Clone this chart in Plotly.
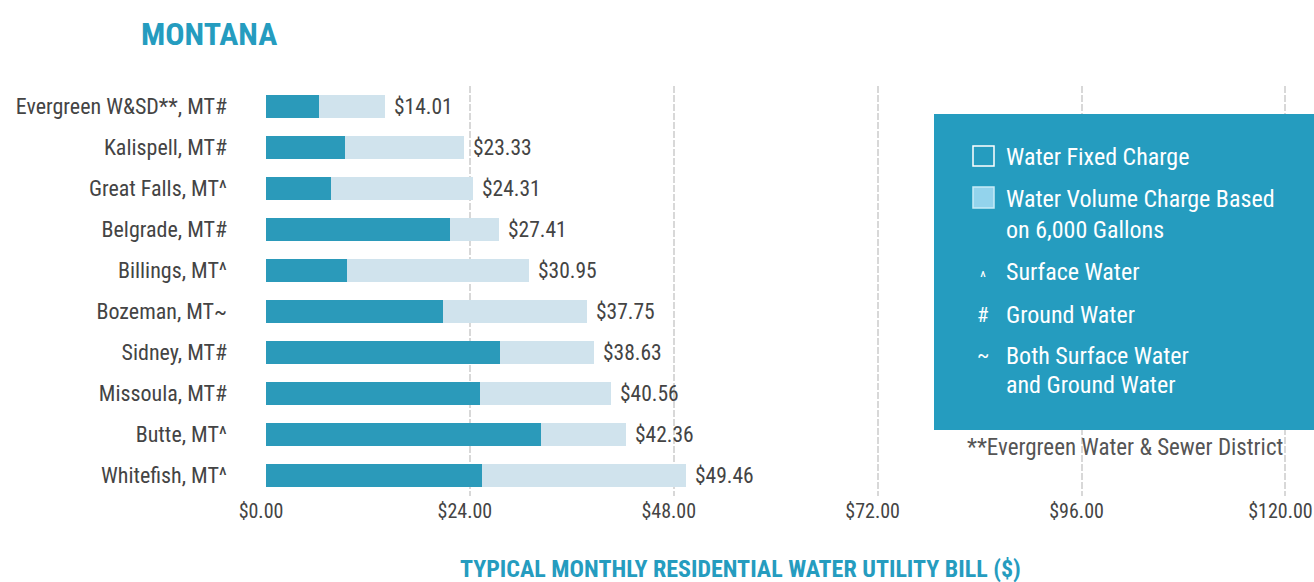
import plotly.graph_objects as go

cities = ["Evergreen W&SD**, MT#", "Kalispell, MT#", "Great Falls, MT^", "Belgrade, MT#",
          "Billings, MT^", "Bozeman, MT~", "Sidney, MT#", "Missoula, MT#", "Butte, MT^", "Whitefish, MT^"]
totals = [14.01, 23.33, 24.31, 27.41, 30.95, 37.75, 38.63, 40.56, 42.36, 49.46]
fixed = [6.27, 9.25, 7.65, 21.70, 9.57, 20.84, 27.60, 25.15, 32.36, 25.40]
volume = [round(t - f, 2) for t, f in zip(totals, fixed)]
tick_vals = [0, 24, 48, 72, 96, 120]
tick_text = ["$0.00", "$24.00", "$48.00", "$72.00", "$96.00", "$120.00"]

FONT = "Roboto Condensed, sans-serif"
DARK = "#2b9aba"
LIGHT = "#d0e3ed"
TEAL = "#259cbf"
TXT = "#444444"

W, H = 1314, 582
L, R, T, B = 266, 26, 86, 86
XMAX = 120.3
PW = W - L - R
PH = H - T - B


def px(x):
    return (x - L) / PW


def py(y):
    return (H - B - y) / PH


fig = go.Figure()
fig.add_trace(go.Bar(y=cities, x=fixed, orientation="h", marker=dict(color=DARK, line=dict(width=0)),
                     name="Water Fixed Charge", width=0.55))
fig.add_trace(go.Bar(y=cities, x=volume, orientation="h", marker=dict(color=LIGHT, line=dict(width=0)),
                     name="Water Volume Charge", width=0.55))

annotations = []
for c, t in zip(cities, totals):
    annotations.append(dict(x=t, y=c, xref="x", yref="y", text=f"${t:.2f}", showarrow=False,
                            xanchor="left", xshift=7, font=dict(family=FONT, size=21.5, color=TXT)))

# Title
annotations.append(dict(x=px(139), y=py(34), xref="paper", yref="paper", text="<b>MONTANA</b>",
                        showarrow=False, xanchor="left", yanchor="middle",
                        font=dict(family=FONT, size=32, color=TEAL)))
# Axis title
annotations.append(dict(x=px(740), y=py(569), xref="paper", yref="paper",
                        text="<b>TYPICAL MONTHLY RESIDENTIAL WATER UTILITY BILL ($)</b>",
                        showarrow=False, xanchor="center", yanchor="middle",
                        font=dict(family=FONT, size=24, color=TEAL)))

# Legend box
shapes = [dict(type="rect", xref="paper", yref="paper", x0=px(934), x1=px(1314), y0=py(430), y1=py(114),
               fillcolor=TEAL, line=dict(width=0), layer="above"),
          dict(type="rect", xref="paper", yref="paper", x0=px(973), x1=px(994), y0=py(166), y1=py(146),
               fillcolor=TEAL, line=dict(color="white", width=1.5), layer="above"),
          dict(type="rect", xref="paper", yref="paper", x0=px(973), x1=px(994), y0=py(208), y1=py(187),
               fillcolor="#93d3ec", line=dict(color="#c8ebf7", width=1.5), layer="above")]

leg_lines = [("Water Fixed Charge", 157), ("Water Volume Charge Based", 199), ("on 6,000 Gallons", 230),
             ("Surface Water", 272), ("Ground Water", 315), ("Both Surface Water", 356),
             ("and Ground Water", 385)]
for txt, yy in leg_lines:
    annotations.append(dict(x=px(1004), y=py(yy), xref="paper", yref="paper", text=txt, showarrow=False,
                            xanchor="left", yanchor="middle", font=dict(family=FONT, size=24, color="white")))
for sym, yy, sz in [("^", 277, 16), ("#", 315, 21), ("~", 355, 21)]:
    annotations.append(dict(x=px(983), y=py(yy), xref="paper", yref="paper", text=sym, showarrow=False,
                            xanchor="center", yanchor="middle", font=dict(family=FONT, size=sz, color="white")))

annotations.append(dict(x=px(1285), y=py(447), xref="paper", yref="paper",
                        text="**Evergreen Water & Sewer District", showarrow=False,
                        xanchor="right", yanchor="middle", font=dict(family=FONT, size=23, color="#555555")))

fig.update_layout(
    barmode="stack",
    width=W, height=H,
    margin=dict(l=L, r=R, t=T, b=B, autoexpand=False),
    paper_bgcolor="white", plot_bgcolor="white",
    showlegend=False,
    annotations=annotations,
    shapes=shapes,
    xaxis=dict(range=[0, XMAX], tickvals=tick_vals, ticktext=tick_text, showgrid=True,
               gridcolor="#d8d8d8", griddash="7px,2px", gridwidth=2, zeroline=False, showline=False,
               ticks="", ticklabelstandoff=1, ticklabelshift=-5, automargin=False,
               ticklabeloverflow="allow",
               tickfont=dict(family=FONT, size=20, color=TXT)),
    yaxis=dict(categoryorder="array", categoryarray=cities, autorange="reversed", showgrid=False,
               zeroline=False, showline=False, ticks="", ticklabelstandoff=38, automargin=False,
               tickfont=dict(family=FONT, size=22, color=TXT)),
)

fig.write_html("out.html", config={"displayModeBar": False},
               post_script="document.body.style.margin='0';document.body.style.overflow='hidden';")
